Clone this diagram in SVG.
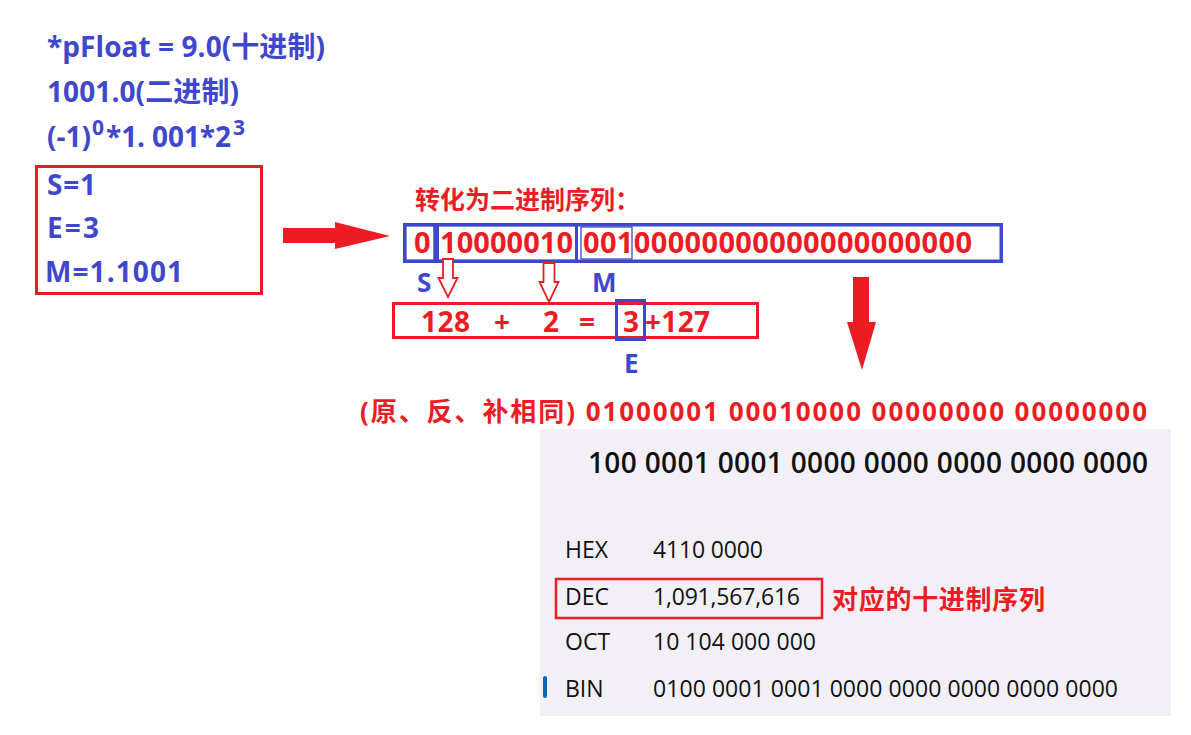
<svg xmlns="http://www.w3.org/2000/svg" width="1191" height="735" viewBox="0 0 1191 735">
<style>
.b{font-family:"Open Sans","Noto Sans CJK SC",sans-serif;font-weight:700;fill:#3f48cc}
.r{font-family:"Open Sans","Noto Sans CJK SC",sans-serif;font-weight:700;fill:#ed1c24}
.k{font-family:"Open Sans","Noto Sans CJK SC",sans-serif;fill:#111;font-size:23px}
.rb{fill:none;stroke:#ed1c24;stroke-width:3}
.bb{fill:none;stroke:#3f48cc;stroke-width:3.5}
.ha{fill:#fff;stroke:#ed1c24;stroke-width:1.8}
.fa{fill:#ed1c24}
</style>
<rect width="1191" height="735" fill="#fff"/>
<g id="formula">
<text class="b" x="47" y="57" font-size="28" textLength="278">*pFloat = 9.0(十进制)</text>
<text class="b" x="47" y="102" font-size="28" textLength="192">1001.0(二进制)</text>
<text class="b" x="47" y="147" font-size="28" textLength="44">(-1)</text>
<text class="b" x="92" y="135" font-size="21">0</text>
<text class="b" x="106" y="147" font-size="28" textLength="125">*1. 001*2</text>
<text class="b" x="233" y="135" font-size="21">3</text>
</g>
<g id="sem-box">
<rect class="rb" x="36.5" y="166.5" width="225" height="127"/>
<text class="b" x="47" y="195" font-size="28" textLength="49">S=1</text>
<text class="b" x="47" y="238" font-size="28" textLength="52">E=3</text>
<text class="b" x="45" y="282" font-size="28" textLength="138">M=1.1001</text>
</g>
<g id="binary-seq">
<text class="r" x="415" y="209" font-size="25" textLength="225">转化为二进制序列：</text>
<rect class="bb" x="404.75" y="224.75" width="596.5" height="36.5"/>
<rect class="bb" x="404.75" y="224.75" width="30" height="36.5" style="stroke-width:3"/>
<rect class="bb" x="437.5" y="224.75" width="139" height="36.5" style="stroke-width:3"/>
<rect class="bb" x="581" y="227" width="51" height="32" style="stroke-width:1.3"/>
<text class="r" x="414" y="253" font-size="29">0</text>
<text class="r" x="440" y="253" font-size="29" textLength="133">10000010</text>
<text class="r" x="583" y="253" font-size="29" textLength="389">00100000000000000000000</text>
<text class="b" x="417" y="292" font-size="26">S</text>
<text class="b" x="592" y="292" font-size="26">M</text>
</g>
<g id="exp-calc">
<rect class="rb" x="393.5" y="303.5" width="364" height="34"/>
<rect class="bb" x="616.5" y="300.5" width="28" height="39" style="stroke-width:3"/>
<text class="r" x="421" y="332" font-size="28" textLength="49">128</text>
<text class="r" x="494" y="332" font-size="28">+</text>
<text class="r" x="543" y="332" font-size="28">2</text>
<text class="r" x="579" y="332" font-size="28">=</text>
<text class="r" x="623" y="332" font-size="28">3</text>
<text class="r" x="645" y="332" font-size="28" textLength="65">+127</text>
<text class="b" x="624" y="373" font-size="26">E</text>
</g>
<g id="result-bytes">
<text class="r" x="360" y="421" font-size="26" textLength="787">(原、反、补相同) 01000001 00010000 00000000 00000000</text>
</g>
<g id="calculator">
<rect x="540" y="429" width="631" height="287" fill="#f2f0f6"/>
<text class="k" x="588" y="473" font-size="28" font-weight="600" style="font-size:28px" textLength="560">100 0001 0001 0000 0000 0000 0000 0000</text>
<text class="k" x="565" y="558">HEX</text>
<text class="k" x="653" y="558" textLength="110">4110 0000</text>
<text class="k" x="565" y="605">DEC</text>
<text class="k" x="653" y="605" textLength="147">1,091,567,616</text>
<text class="k" x="565" y="650">OCT</text>
<text class="k" x="653" y="650" textLength="163">10 104 000 000</text>
<rect x="543" y="676" width="4" height="22" rx="2" fill="#0067c0"/>
<text class="k" x="565" y="697">BIN</text>
<text class="k" x="653" y="697" textLength="465">0100 0001 0001 0000 0000 0000 0000 0000</text>
</g>
<g id="dec-note">
<rect class="rb" x="556" y="579" width="266" height="39" style="stroke-width:2.5"/>
<text class="r" x="832" y="609" font-size="26" textLength="213">对应的十进制序列</text>
</g>
<g id="connectors">
<polygon class="fa" points="283,228 335,228 335,222 390,236 335,249 335,243 283,243"/>
<polygon class="fa" points="853,277 869,277 869,322 876,322 862,370 847,322 853,322"/>
<polygon class="ha" points="443,259 453,259 453,278 457.5,278 448,297 438.5,278 443,278"/>
<polygon class="ha" points="543.5,263 554.5,263 554.5,282 558.5,282 549,302 539.5,282 543.5,282"/>
</g>
</svg>
